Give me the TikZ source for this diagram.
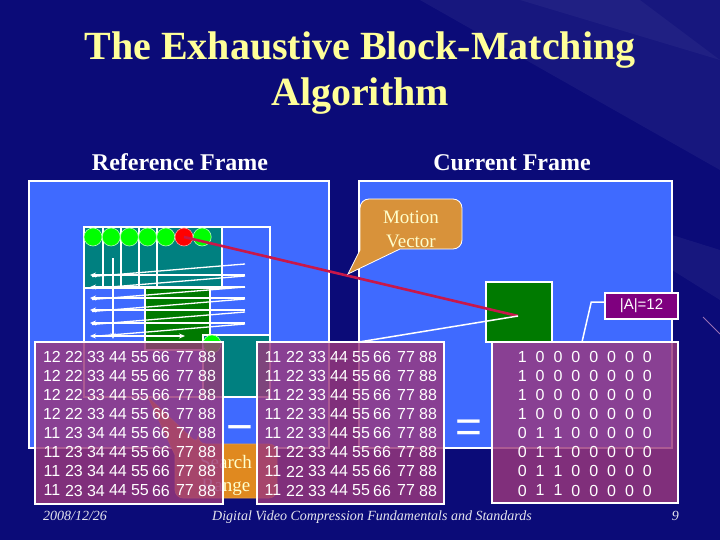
\documentclass[tikz,border=0pt]{standalone}
\usepackage{fontspec}
\setmainfont{Liberation Serif}
\newfontfamily\arialf{Liberation Sans}
\usetikzlibrary{arrows.meta}
\definecolor{navy}{HTML}{0B0B78}
\definecolor{frameblue}{HTML}{3F6AFF}
\definecolor{tealc}{HTML}{008080}
\definecolor{dgreen}{HTML}{007A00}
\definecolor{lgreen}{HTML}{00FF00}
\definecolor{mvred}{HTML}{C8174A}
\definecolor{mvorange}{HTML}{D8923A}
\definecolor{srorange}{HTML}{E0891F}
\definecolor{cream}{HTML}{FFFFCC}
\definecolor{matfill}{HTML}{9A377C}
\definecolor{apurple}{HTML}{7F007F}
\definecolor{titlecol}{HTML}{FFFF99}
\definecolor{footcol}{HTML}{E6E6EE}
\begin{document}
\begin{tikzpicture}[x=1pt,y=-1pt,
  boxn/.style={anchor=north west, inner sep=0pt, outer sep=0pt},
  framebox/.style={boxn, fill=frameblue, draw=white, line width=1.5pt},
  blockbox/.style={boxn, draw=white, line width=1.2pt},
  matbox/.style={boxn, fill=matfill, fill opacity=0.82, draw=white, draw opacity=1, line width=1.5pt},
  num/.style={inner sep=0pt, text=white, font=\arialf\fontsize{16}{19}\selectfont},
  dot/.style={circle, inner sep=0pt, minimum size=18pt, draw=green!30!white, line width=0.6pt},
  scan/.style={white, line width=1.3pt},
  scanarr/.style={scan, -{Stealth[length=6pt,width=5pt]}},
  cream text/.style={text=cream, font=\fontsize{19}{23.5}\selectfont, align=center, inner sep=0pt},
  signs/.style={text=white, font=\arialf\fontsize{46}{50}\selectfont, inner sep=0pt, anchor=base},
  foot/.style={text=footcol, font=\itshape\fontsize{14}{16}\selectfont, inner sep=0pt}]
\useasboundingbox (0,0) rectangle (720,540);
% background
\fill[navy] (0,0) rectangle (720,540);
\fill[white, opacity=0.05] (720,0) -- (420,0) -- (720,170) -- cycle;
\fill[white, opacity=0.04] (720,60) -- (520,0) -- (640,0) -- cycle;
\fill[white, opacity=0.05] (720,300) -- (560,200) -- (720,250) -- cycle;
\draw[white!70!magenta, opacity=0.6, line width=0.8pt] (703,317) -- (720,334);

% titles
\node[text=titlecol, font=\bfseries\fontsize{40}{44}\selectfont, anchor=base, inner sep=0pt] (t1) at (360,60) {The Exhaustive Block-Matching};
\node[text=titlecol, font=\bfseries\fontsize{40}{44}\selectfont, anchor=base, inner sep=0pt] (t2) at (360,106) {Algorithm};
\node[text=white, font=\bfseries\fontsize{24}{28}\selectfont, anchor=base, inner sep=0pt] (rft) at (180,171) {Reference Frame};
\node[text=white, font=\bfseries\fontsize{24}{28}\selectfont, anchor=base, inner sep=0pt] (cft) at (512,171) {Current Frame};

% frames
\node[framebox, minimum width=300pt, minimum height=267pt] (ref) at (29,181) {};
\node[framebox, minimum width=313pt, minimum height=267pt] (cur) at (359,181) {};

% reference frame content
\node[blockbox, fill=tealc, minimum width=138pt, minimum height=61pt] (topblk) at (84,227) {};
\node[blockbox, fill=dgreen, minimum width=65pt, minimum height=62pt] (gblk) at (145,288) {};
\node[blockbox, fill=tealc, minimum width=67pt, minimum height=62pt] (lastblk) at (203,335) {};
\node[blockbox, minimum width=186pt, minimum height=170pt] (swin) at (84,227) {};
\foreach \x in {103,121,139,157} \draw[white, line width=1.2pt] (\x,227) -- (\x,288);
\draw[white, line width=1.2pt] (84,288) -- (145,288);
\foreach \k in {0,...,6} {
  \pgfmathsetmacro\cx{93+18.2*\k}
  \ifnum\k=5
    \node[dot, fill=red, draw=red!40!white] (c\k) at (\cx,237) {};
  \else
    \node[dot, fill=lgreen] (c\k) at (\cx,237) {};
  \fi
}
\node[dot, fill=lgreen] (c7) at (212,344) {};
% raster scan arrows
\foreach \yy in {275,287,298,310,323} {
  \draw[scanarr] (245,\yy) -- (90,\yy);
  \draw[scan] (92,\yy+1.5) -- (245,\yy-11);
}
\draw[scan] (92,336.5) -- (245,324);
\draw[scan, {Stealth[length=6pt,width=5pt]}-{Stealth[length=6pt,width=5pt]}] (90,336) -- (185,336);
\draw[scanarr] (113,258) -- (113,339);

% current frame block
\node[blockbox, fill=dgreen, minimum width=66pt, minimum height=60pt] (cb) at (486,282) {};
\coordinate (mvend) at (518,316);

% Search Range callout (under the matrices)
\draw[fill=srorange, draw=srorange!80!white, line width=0.6pt]
  (198,444) -- (148,397) -- (175,455) [rounded corners=8pt] -- (175,498) -- (277,498) -- (277,444) -- (198,444) -- cycle;
\node[cream text] (sr) at (226,475.5) {Search\\Range};

% motion vector and helper line
\draw[mvred, line width=2.6pt] (c5.center) -- (mvend);
\coordinate (wend) at (359,342);
\draw[white, line width=1.5pt] (mvend) -- (wend);

% Motion Vector callout
\draw[fill=mvorange, draw=white, line width=0.8pt]
  (360,250) -- (348,274) -- (400,249) [rounded corners=9pt] -- (462,249) -- (462,199) -- (360,199) -- (360,236) [sharp corners] -- (360,250) -- cycle;
\node[cream text] (mv) at (411,229.5) {Motion\\Vector};

% |A|=12 label
\node[fill=apurple, draw=white, line width=1.5pt, minimum width=73pt, minimum height=26pt, inner sep=0pt, text=white, font=\arialf\fontsize{15}{18}\selectfont] (aa) at (641.5,306) {|A|=12};
\coordinate (aatip) at (582,342);
\draw[white, line width=1.5pt] ([yshift=4pt]aa.west) -- ++(-13,0) -- (aatip);

% matrices
\node[matbox, minimum width=188pt, minimum height=162pt] (m1) at (35,342) {};
\node[matbox, minimum width=187pt, minimum height=162pt] (m2) at (257,342) {};
\node[matbox, minimum width=186pt, minimum height=161pt] (m3) at (492,342) {};
\foreach \r in {0,...,7} {
  \pgfmathsetmacro\yy{357+19.07*\r}
  \ifnum\r<4
    \def\valsa{12/52,22/74,33/96,44/118,55/140,66/161,77/185,88/207}
    \def\valsc{1,0,0,0,0,0,0,0}
  \else
    \def\valsa{11/52,23/74,34/96,44/118,55/140,66/161,77/185,88/207}
    \def\valsc{0,1,1,0,0,0,0,0}
  \fi
  \foreach \v/\x [count=\c] in \valsa {
    \node[num] (m1-\r-\c) at (\x,\yy) {\v};
  }
  \foreach \v/\x [count=\c] in {11/52,22/74,33/96,44/118,55/140,66/161,77/185,88/207} {
    \node[num] (m2-\r-\c) at (\x+221,\yy) {\v};
  }
  \foreach \v [count=\c] in \valsc {
    \node[num] (m3-\r-\c) at (522.3+17.86*\c-17.86,\yy) {\v};
  }
}

% operators
\node[signs] (minus) at (240,442) {−};
\node[signs] (eq) at (468.5,442.5) {=};

% footer
\node[foot, anchor=base west] (date) at (43,520) {2008/12/26};
\node[foot, anchor=base] (ftitle) at (372,520) {Digital Video Compression Fundamentals and Standards};
\node[foot, anchor=base east] (pg) at (679,520) {9};
\end{tikzpicture}
\end{document}
